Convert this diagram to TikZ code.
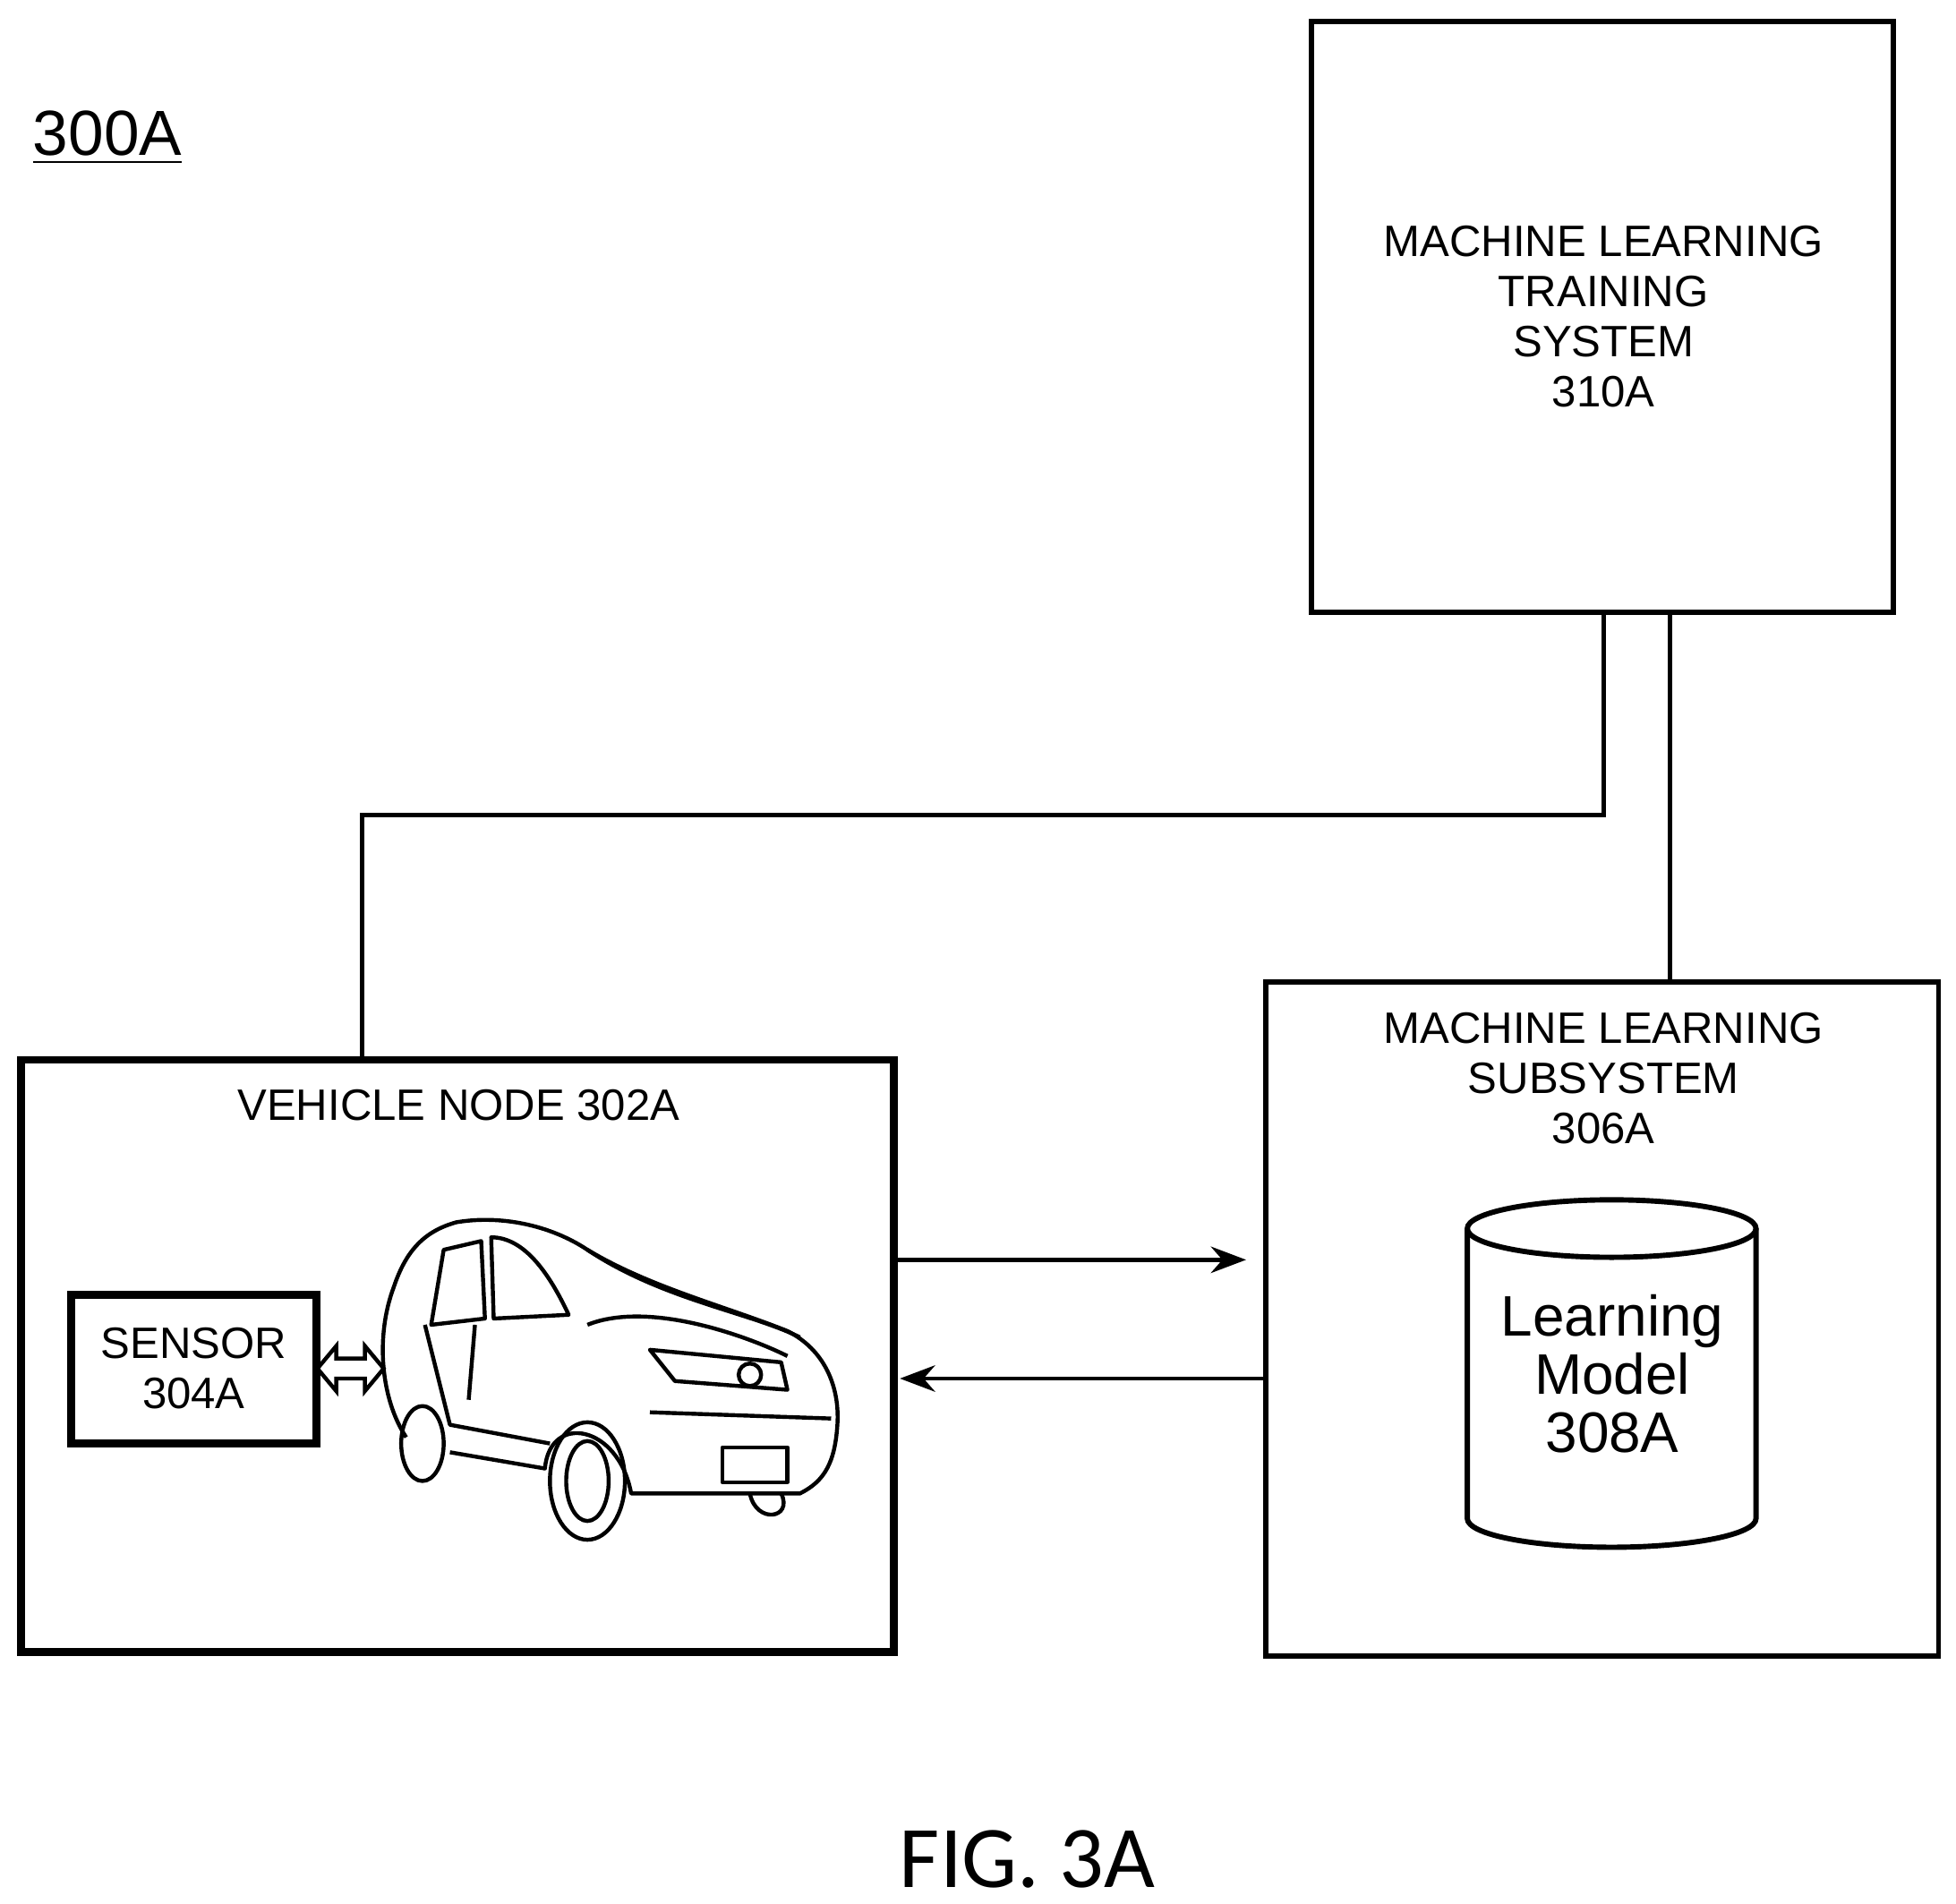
\documentclass[tikz,border=0pt]{standalone}
\usepackage{fontspec}
\setmainfont{Liberation Sans}
\newfontfamily\figfont{Carlito}
\usetikzlibrary{shapes.geometric,arrows.meta,positioning}
\begin{document}
\begin{tikzpicture}[x=0.01cm, y=-0.01cm,
                    box/.style={draw, line width=1.2pt, inner sep=0pt},
                    thickbox/.style={draw, line width=1.8pt, inner sep=0pt},
                    label/.style={align=center, font=\fontsize{10}{11.4}\selectfont},
                    wire/.style={line width=1pt},
                    link/.style={line width=1pt, -{Stealth[length=8pt, width=6pt]}}]
\useasboundingbox (0,0) rectangle (1565,1523);

% title
\node[font=\fontsize{14.5}{16}\selectfont] (fignum) at (86,110) {\underline{300A}};

% boxes
\draw[box] (1049,17) rectangle (1515,490);
\node[label] (train) at (1283,253) {MACHINE LEARNING\\TRAINING\\SYSTEM\\310A};
\coordinate (trainA) at (1283,490);
\coordinate (trainB) at (1336,490);
\coordinate (bend) at (1283,652);

\draw[thickbox] (17,848) rectangle (715,1322);
\node[label] (vehicle) at (367,884) {VEHICLE NODE 302A};
\coordinate (vehTop) at (290,848);

\draw[thickbox] (57,1036) rectangle (253,1155);
\node[label] (sensor) at (155,1095) {SENSOR\\304A};

\draw[box] (1013,786) rectangle (1551,1325);
\node[label] (subsys) at (1283,863) {MACHINE LEARNING\\SUBSYSTEM\\306A};
\coordinate (subTop) at (1336,786);

% database
\draw[line width=1.2pt] (1174,983) -- (1174,1215) arc[start angle=180, end angle=0, x radius=115.5, y radius=23]
      -- (1405,983);
\draw[line width=1.2pt] (1289.5,983) ellipse (115.5 and 23);
\node[align=center, font=\fontsize{13}{13.2}\selectfont] (model) at (1290,1099) {Learning\\Model\\308A};

% connectors
\draw[wire] (trainA) -- (bend) -| (vehTop);
\draw[wire] (trainB) -- (subTop);
\draw[link] (718,1008) -- (997,1008);
\draw[link] (1013,1103) -- (720,1103);
\draw[line width=0.9pt] (254,1095) -- (269,1077) -- (269,1087) -- (292,1087) -- (292,1077) -- (307,1095)
      -- (292,1113) -- (292,1103) -- (269,1103) -- (269,1113) -- cycle;

% car
\begin{scope}[line width=0.9pt, line join=round]
\draw (325,1150) .. controls (305,1120) and (300,1070) .. (315,1030)
      .. controls (325,1000) and (340,985) .. (365,978)
      .. controls (400,972) and (440,980) .. (470,1000)
      .. controls (520,1030) and (580,1045) .. (630,1065)
      .. controls (660,1080) and (672,1110) .. (670,1140)
      .. controls (668,1170) and (660,1185) .. (640,1195)
      -- (505,1195) .. controls (495,1140) and (440,1130) .. (436,1175)
      -- (360,1162);
\draw (470,1000) .. controls (530,1040) and (600,1050) .. (640,1070);
\draw (345,1060) -- (355,1000) -- (385,993) -- (388,1055) -- cycle;
\draw (395,1055) -- (393,990) .. controls (420,990) and (440,1020) .. (455,1052) -- cycle;
\draw (470,1060) .. controls (520,1040) and (600,1070) .. (630,1085);
\draw (520,1080) -- (625,1090) -- (630,1112) -- (540,1105) -- cycle;
\draw (600,1100) circle (9);
\draw (520,1130) -- (665,1135);
\draw (578,1158) rectangle (630,1186);
\draw (340,1060) -- (360,1140) -- (440,1155);
\draw (380,1060) -- (375,1120);
\draw (470,1185) ellipse (30 and 47);
\draw (470,1185) ellipse (17 and 32);
\draw (338,1155) ellipse (17 and 30);
\draw (625,1195) .. controls (635,1215) and (605,1220) .. (600,1195);
\end{scope}

\node[font=\figfont\fontsize{20}{21}\selectfont] (caption) at (822,1488) {FIG. 3A};
\end{tikzpicture}
\end{document}
